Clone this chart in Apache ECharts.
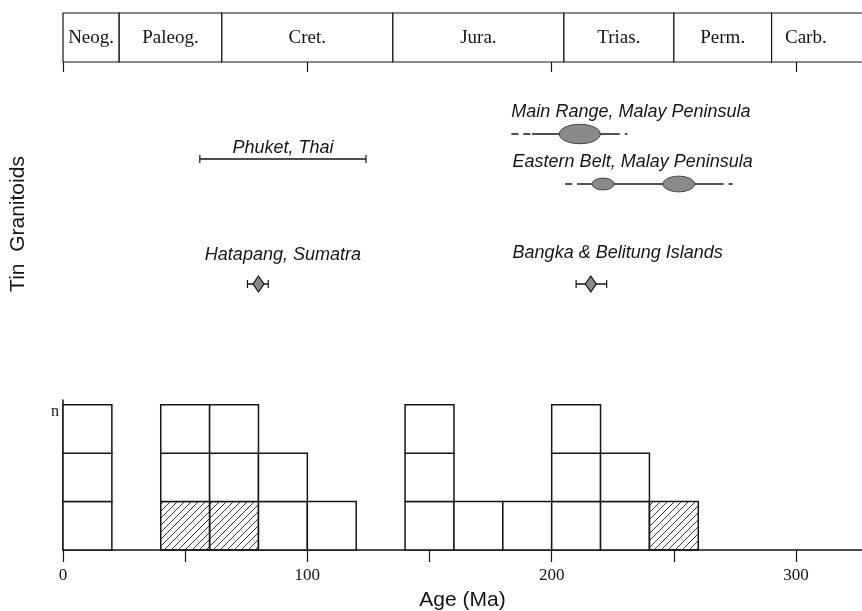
<!DOCTYPE html>
<html>
<head>
<meta charset="utf-8">
<script src="https://cdn.jsdelivr.net/npm/echarts@6/dist/echarts.min.js"></script>
<style>
  html, body { margin: 0; padding: 0; background: #fff; }
  #chart { width: 862px; height: 611px; }
</style>
</head>
<body>
<div id="chart"></div>
<script>
// geologic time scale (Ma)
const periods = ['Neog.', 'Paleog.', 'Cret.', 'Jura.', 'Trias.', 'Perm.', 'Carb.'];
const periodBounds = [0, 23, 65, 135, 205, 250, 290, 318];

// histogram, 20 Ma bins
const binWidth = 20;
const binStarts = [0, 20, 40, 60, 80, 100, 120, 140, 160, 180, 200, 220, 240];
const binCounts = [3, 0, 3, 3, 2, 1, 0, 3, 1, 1, 3, 2, 1];
const binHatched = [0, 0, 1, 1, 0, 0, 0, 0, 0, 0, 0, 0, 1];
const ageTicks = [0, 50, 100, 150, 200, 250, 300];
const ageLabels = [0, 100, 200, 300];

// tin granitoid ages
const sampleNames = ['Main Range, Malay Peninsula', 'Phuket, Thai', 'Eastern Belt, Malay Peninsula',
  'Hatapang, Sumatra', 'Bangka & Belitung Islands'];
const sampleKinds = ['belt', 'range', 'belt', 'point', 'point'];
const sampleRows = [2, 3, 4, 8, 8];
const sampleRanges = [[183.5, 231], [56, 124], [205.5, 274], [75.5, 84], [210, 222.5]];
const sampleSolid = [[192, 225], null, [211.5, 267.5], null, null];
const samplePeaks = [[[211.5, 8.4]], [], [[221, 4.5], [252, 6.5]], [[80]], [[216]]];
const labelAges = [183.5, 90, 184, 90, 184];
const labelRows = [1.1, 2.55, 3.1, 6.82, 6.74];
const labelAlign = ['left', 'center', 'left', 'center', 'left'];

const chart = echarts.init(document.getElementById('chart'));

// diagonal hatch pattern
const hatch = document.createElement('canvas');
hatch.width = 7; hatch.height = 7;
const hc = hatch.getContext('2d');
hc.strokeStyle = '#222';
hc.lineWidth = 0.9;
hc.beginPath();
hc.moveTo(0, 7); hc.lineTo(7, 0);
hc.moveTo(-1, 1); hc.lineTo(1, -1);
hc.moveTo(6, 8); hc.lineTo(8, 6);
hc.stroke();

const squares = [];
binStarts.forEach((b, i) => {
  for (let l = 0; l < binCounts[i]; l++) {
    squares.push([b, l, l < binHatched[i] ? 1 : 0]);
  }
});

const ink = '#151515';
const xMax = 327;

const option = {
  animation: false,
  grid: [
    {left: 63, right: 0, top: 13, height: 49, outerBoundsMode: 'none'},
    {left: 63, right: 0, top: 84, height: 250, outerBoundsMode: 'none'},
    {left: 63, right: 0, top: 400, height: 150, outerBoundsMode: 'none'}
  ],
  xAxis: [
    {
      gridIndex: 0, type: 'value', min: 0, max: xMax, interval: 100, position: 'bottom',
      axisLine: {show: false},
      axisTick: {show: true, length: 10, customValues: ageLabels, lineStyle: {color: ink, width: 1.2}},
      axisLabel: {show: false}, splitLine: {show: false}
    },
    {gridIndex: 1, type: 'value', min: 0, max: xMax, show: false},
    {
      gridIndex: 2, type: 'value', min: 0, max: xMax, interval: 50,
      name: 'Age (Ma)', nameLocation: 'middle', nameGap: 40,
      nameTextStyle: {fontFamily: 'Liberation Sans', fontSize: 21, color: ink},
      axisLine: {show: true, lineStyle: {color: ink, width: 1.5}},
      axisTick: {show: true, length: 12, customValues: ageTicks, lineStyle: {color: ink, width: 1.2}},
      axisLabel: {
        margin: 17, fontFamily: 'Liberation Serif', fontSize: 17, color: ink,
        customValues: ageLabels
      },
      splitLine: {show: false}
    }
  ],
  yAxis: [
    {gridIndex: 0, type: 'value', min: 0, max: 1, show: false},
    {gridIndex: 1, type: 'value', min: 0, max: 10, inverse: true, show: false},
    {
      gridIndex: 2, type: 'value', min: 0, max: 3.1,
      name: 'n', nameLocation: 'end', nameGap: -20,
      nameTextStyle: {fontFamily: 'Liberation Serif', fontSize: 16, color: ink, align: 'right', padding: [0, 4, 0, 0]},
      axisLine: {show: true, lineStyle: {color: ink, width: 1.5}},
      axisTick: {show: false}, axisLabel: {show: false}, splitLine: {show: false}
    }
  ],
  graphic: [{
    type: 'text', x: 18, y: 224, rotation: Math.PI / 2,
    style: {
      text: 'Tin  Granitoids', font: '21px "Liberation Sans"', fill: ink,
      align: 'center', verticalAlign: 'middle'
    }
  }],
  series: [
    {
      type: 'custom', xAxisIndex: 0, yAxisIndex: 0,
      data: periods.map((p, i) => [periodBounds[i], periodBounds[i + 1]]),
      renderItem(params, api) {
        const i = params.dataIndex;
        const p0 = api.coord([periodBounds[i], 1]);
        const p1 = api.coord([periodBounds[i + 1], 0]);
        const right = i === periods.length - 1 ? params.coordSys.x + params.coordSys.width + 2 : p1[0];
        return {
          type: 'group', children: [
            {type: 'rect', shape: {x: p0[0], y: p0[1], width: right - p0[0], height: p1[1] - p0[1]},
              style: {fill: '#fff', stroke: ink, lineWidth: 1.2}},
            {type: 'text', style: {text: periods[i], x: (p0[0] + p1[0]) / 2, y: (p0[1] + p1[1]) / 2 + 1,
              align: 'center', verticalAlign: 'middle', font: '19px "Liberation Serif"', fill: ink}}
          ]
        };
      }
    },
    {
      type: 'custom', xAxisIndex: 1, yAxisIndex: 1,
      data: sampleNames.map((n, i) => [sampleRanges[i][0], sampleRows[i]]),
      renderItem(params, api) {
        const i = params.dataIndex;
        const row = sampleRows[i];
        const y = api.coord([0, row])[1];
        const X = a => api.coord([a, row])[0];
        const [lo, hi] = sampleRanges[i];
        const kids = [];
        const seg = (a, b, dash) => kids.push({type: 'line', shape: {x1: X(a), y1: y, x2: X(b), y2: y},
          style: {stroke: ink, lineWidth: 1.5, lineDash: dash ? [7, 5] : null}});
        const cap = (a, h) => kids.push({type: 'line', shape: {x1: X(a), y1: y - h, x2: X(a), y2: y + h},
          style: {stroke: ink, lineWidth: 1.2}});
        if (sampleKinds[i] === 'belt') {
          const [s0, s1] = sampleSolid[i];
          seg(lo, s0, true); seg(s0, s1, false); seg(s1, hi, true);
          samplePeaks[i].forEach(([c, hw]) => {
            const rx = X(c + hw) - X(c);
            kids.push({type: 'ellipse', shape: {cx: X(c), cy: y, rx: rx, ry: rx * 0.4 + 1.5},
              style: {fill: '#8a8a8a', stroke: '#444', lineWidth: 1}});
          });
        } else {
          seg(lo, hi, false); cap(lo, 4); cap(hi, 4);
          if (sampleKinds[i] === 'point') {
            const cx = X(samplePeaks[i][0][0]);
            kids.push({type: 'polygon', shape: {points: [[cx, y - 8], [cx + 5.5, y], [cx, y + 8], [cx - 5.5, y]]},
              style: {fill: '#8a8a8a', stroke: ink, lineWidth: 1.2}});
          }
        }
        const lp = api.coord([labelAges[i], labelRows[i]]);
        kids.push({type: 'text', style: {text: sampleNames[i], x: lp[0], y: lp[1], align: labelAlign[i],
          verticalAlign: 'middle', font: 'italic 18px "Liberation Sans"', fill: ink}});
        return {type: 'group', children: kids};
      }
    },
    {
      type: 'custom', xAxisIndex: 2, yAxisIndex: 2,
      data: squares,
      renderItem(params, api) {
        const x0 = api.value(0), lvl = api.value(1);
        const p0 = api.coord([x0, lvl + 1]);
        const p1 = api.coord([x0 + binWidth, lvl]);
        return {
          type: 'rect', shape: {x: p0[0], y: p0[1], width: p1[0] - p0[0], height: p1[1] - p0[1]},
          style: {fill: api.value(2) ? {image: hatch, repeat: 'repeat'} : '#fff', stroke: ink, lineWidth: 1.5}
        };
      }
    }
  ]
};
chart.setOption(option);
</script>
</body>
</html>
